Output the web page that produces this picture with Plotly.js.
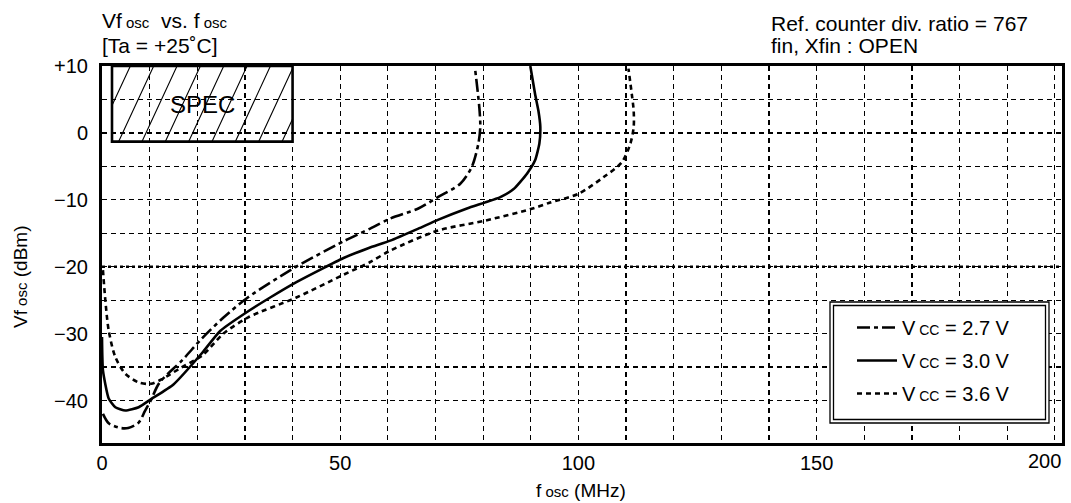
<!DOCTYPE html>
<html><head><meta charset="utf-8">
<script src="https://cdn.plot.ly/plotly-3.0.1.min.js"></script>
<style>html,body{margin:0;padding:0;background:#fff}#chart{width:1071px;height:503px}</style>
</head><body><div id="chart"></div>
<script>
// ---- data ----
const seriesNames = [
  'V<span style="font-size:14px"> CC</span> = 2.7 V',
  'V<span style="font-size:14px"> CC</span> = 3.0 V',
  'V<span style="font-size:14px"> CC</span> = 3.6 V'
];
const x27 = [0.2, 1.4, 3.8, 5.5, 7.7, 9.0, 10.3, 12.0, 16.8, 21.0, 25.5, 30.6, 40.8, 50.7, 56.3, 60.5, 66.4, 70.5, 75.2, 77.6, 79.0, 79.4, 79.2, 78.3];
const y27 = [-42.0, -43.4, -44.1, -44.1, -43.3, -41.6, -39.9, -37.4, -34.0, -30.7, -27.6, -24.6, -20.0, -16.2, -14.3, -12.8, -11.3, -9.6, -7.6, -5.1, -1.6, 0.9, 3.8, 9.6];
const x30 = [0.0, 0.2, 1.4, 2.8, 4.9, 7.7, 10.3, 15.0, 21.0, 24.8, 30.6, 35.3, 40.8, 50.7, 56.0, 60.5, 66.4, 70.5, 76.6, 83.6, 86.4, 89.2, 90.9, 91.8, 92.0, 91.6, 90.9, 89.9];
const y30 = [-30.5, -35.5, -39.7, -41.0, -41.5, -41.0, -39.8, -37.6, -32.9, -29.6, -26.7, -24.6, -22.3, -18.7, -17.2, -16.1, -14.3, -13.0, -11.3, -9.6, -8.4, -6.1, -4.1, -1.6, 0.9, 3.3, 5.8, 10.0];
const x36 = [0.2, 0.7, 1.4, 2.8, 4.9, 7.7, 10.3, 12.6, 16.8, 21.0, 25.5, 30.6, 40.8, 50.7, 56.3, 60.5, 70.5, 80.5, 90.4, 94.1, 100.0, 105.3, 109.1, 110.9, 111.6, 111.6, 111.2, 110.5];
const y36 = [-20.5, -25.0, -29.5, -33.5, -36.0, -37.3, -37.5, -36.8, -35.0, -33.3, -30.0, -27.6, -24.6, -21.2, -19.3, -17.6, -14.6, -13.1, -11.3, -10.4, -9.1, -6.6, -4.4, -1.6, 0.9, 3.3, 5.8, 9.6];
const xTickVals = [0, 50, 100, 150, 200];
const xTickText = ['0', '50', '100', '150', '200'];
const yTickVals = [10, 0, -10, -20, -30, -40];
const yTickText = ['+10', '0', '\u221210', '\u221220', '\u221230', '\u221240'];
const yMinorGrid = [5, -5, -15, -25, -35];
const specX = [2.1, 40];
const specY = [-1.3, 10];
const refLine = -20;

// ---- layout helpers ----
const W = 1071, H = 503;
const M = {l: 102, r: 9, t: 66, b: 60};
const PW = W - M.l - M.r, PH = H - M.t - M.b;
const px = v => (v - M.l) / PW;
const py = v => (H - M.b - v) / PH;
const FONT = 'Liberation Sans, Arial, sans-serif';
const BK = '#000';

const traces = [
  {x: x27, y: y27, name: seriesNames[0], legendgroup: 'a', mode: 'lines',
   line: {color: BK, width: 2.6, dash: '13px,4px,4px,4px', shape: 'spline', smoothing: 0.8}},
  {x: x30, y: y30, name: seriesNames[1], legendgroup: 'b', mode: 'lines',
   line: {color: BK, width: 2.6, shape: 'spline', smoothing: 0.5}},
  {x: x36, y: y36, name: seriesNames[2], legendgroup: 'c', mode: 'lines',
   line: {color: BK, width: 2.6, dash: '5px,4px', shape: 'spline', smoothing: 0.8}}
];

// hatch lines inside the SPEC box (one path)
const shapes = [];
const hatchStart = 3.5, hatchStep = 4.9, hatchRun = 7.35;
let hatchPath = '';
for (let c = hatchStart - 2 * hatchStep; c < specX[1]; c += hatchStep) {
  let xa = c, ya = specY[0], xb = c + hatchRun, yb = specY[1];
  const slope = (yb - ya) / (xb - xa);
  if (xa < specX[0]) { ya = ya + (specX[0] - xa) * slope; xa = specX[0]; }
  if (xb > specX[1]) { yb = yb - (xb - specX[1]) * slope; xb = specX[1]; }
  if (xb <= xa) continue;
  hatchPath += 'M' + xa.toFixed(3) + ',' + ya.toFixed(3) + 'L' + xb.toFixed(3) + ',' + yb.toFixed(3);
}
shapes.push({type: 'path', xref: 'x', yref: 'y', path: hatchPath, line: {color: BK, width: 1.1}, layer: 'above'});
shapes.push({type: 'rect', xref: 'x', yref: 'y', x0: specX[0], x1: specX[1], y0: specY[0], y1: specY[1],
  line: {color: BK, width: 2.6}, layer: 'above'});
shapes.push({type: 'line', xref: 'paper', yref: 'y', x0: 0, x1: 1, y0: refLine, y1: refLine,
  line: {color: BK, width: 2.6, dash: '3px,3px'}, layer: 'above'});
// legend double frame
shapes.push({type: 'rect', xref: 'paper', yref: 'paper', x0: px(830), x1: px(1049), y0: py(423), y1: py(302),
  line: {color: BK, width: 1.3}, fillcolor: '#fff', layer: 'above'});
shapes.push({type: 'rect', xref: 'paper', yref: 'paper', x0: px(833.5), x1: px(1045.5), y0: py(419.5), y1: py(305.5),
  line: {color: BK, width: 1.3}, layer: 'above'});

const sub = s => '<span style="font-size:15px">' + s + '</span>';
const ann = (text, x, y, opt) => Object.assign({text, xref: 'paper', yref: 'paper', x: px(x), y: py(y),
  xanchor: 'left', yanchor: 'middle', showarrow: false, font: {family: FONT, size: 21, color: BK}}, opt || {});

// last x tick label is placed flush with the right frame (as in the reference)
const lastTick = xTickText[xTickText.length - 1];
const xTickShown = xTickText.map((t, i) => i === xTickText.length - 1 ? '' : t);

const annotations = [
  ann('Vf' + sub(' osc') + '  vs. f' + sub(' osc'), 100, 20),
  ann('[Ta = +25\u02DAC]', 100, 45),
  ann('Ref. counter div. ratio = 767', 769, 23),
  ann('fin, Xfin : OPEN', 769, 45),
  {text: 'SPEC', xref: 'x', yref: 'y', x: 21, y: 4.3, showarrow: false,
   font: {family: FONT, size: 24, color: BK}},
  ann('Vf' + sub(' osc') + ' (dBm)', 20, 277, {textangle: -90, xanchor: 'center', font: {family: FONT, size: 19, color: BK}}),
  ann('f' + sub(' osc') + ' (MHz)', 581, 490, {xanchor: 'center', font: {family: FONT, size: 19, color: BK}}),
  ann(lastTick, 1063, 461, {xanchor: 'right', font: {family: FONT, size: 20, color: BK}})
];

const gridStyle = {gridcolor: BK, gridwidth: 1.2, griddash: '5px,4px'};
const layout = {
  width: W, height: H, margin: M,
  paper_bgcolor: '#fff', plot_bgcolor: '#fff',
  font: {family: FONT, size: 19, color: BK},
  showlegend: true,
  legend: {x: px(852), xanchor: 'left', y: py(308), yanchor: 'top',
    bgcolor: 'rgba(0,0,0,0)', borderwidth: 0, font: {family: FONT, size: 20, color: BK},
    tracegroupgap: 4, itemwidth: 40},
  xaxis: Object.assign({range: [0, 201.5], tickmode: 'array', tickvals: xTickVals, ticktext: xTickShown,
    showline: true, linecolor: BK, linewidth: 3, mirror: true, ticks: '', zeroline: false,
    showgrid: true, ticklabelstandoff: 0, tickfont: {family: FONT, size: 20, color: BK},
    minor: Object.assign({tickmode: 'linear', tick0: 0, dtick: 10, showgrid: true, ticks: ''}, gridStyle)}, gridStyle),
  yaxis: Object.assign({range: [-46.35, 10], tickmode: 'array', tickvals: yTickVals, ticktext: yTickText,
    showline: true, linecolor: BK, linewidth: 3, mirror: true, ticks: '', zeroline: false,
    showgrid: true, ticklabelstandoff: 7, tickfont: {family: FONT, size: 20, color: BK},
    minor: Object.assign({tickmode: 'array', tickvals: yMinorGrid, showgrid: true, ticks: ''}, gridStyle)}, gridStyle),
  shapes, annotations
};

Plotly.newPlot('chart', traces, layout, {displayModeBar: false, staticPlot: true});
</script>
</body></html>
